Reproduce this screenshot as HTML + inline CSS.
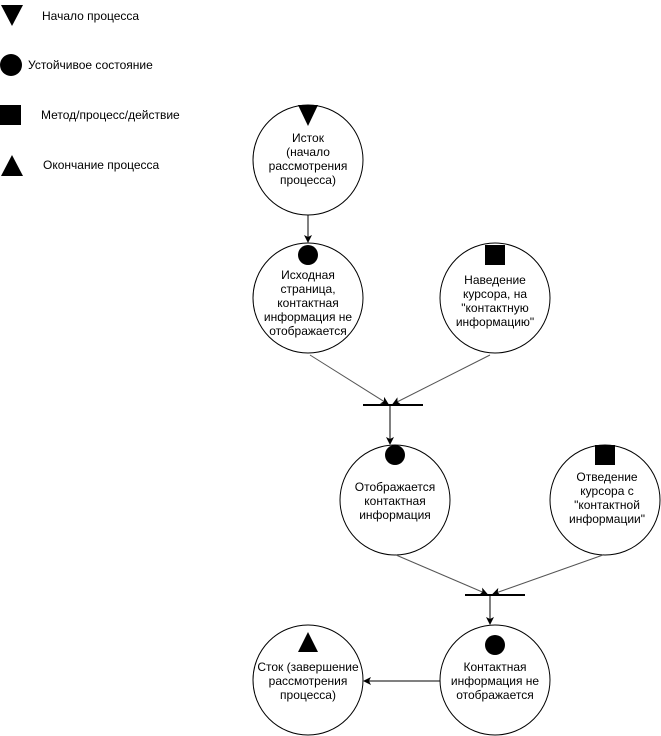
<!DOCTYPE html>
<html><head><meta charset="utf-8"><style>
html,body{margin:0;padding:0;background:#fff;}
svg{display:block;}
text{font-family:"Liberation Sans",sans-serif;font-size:12px;fill:#000;}
</style></head><body>
<svg width="661" height="736" viewBox="0 0 661 736" xmlns="http://www.w3.org/2000/svg">
<defs>
<marker id="a" markerWidth="8" markerHeight="8" refX="7" refY="4" orient="auto" markerUnits="userSpaceOnUse">
<path d="M0,0 L8,4 L0,8 L2,4 Z" fill="#000"/></marker>
</defs>
<!-- legend -->
<polygon points="1,5 23,5 12,26" fill="#000"/>
<text x="42" y="20">Начало процесса</text>
<circle cx="11" cy="65" r="11" fill="#000"/>
<text x="28" y="69">Устойчивое состояние</text>
<rect x="0" y="105" width="21" height="20" fill="#000"/>
<text x="41" y="119">Метод/процесс/действие</text>
<polygon points="1,176 23,176 12,155" fill="#000"/>
<text x="43" y="169">Окончание процесса</text>

<g fill="#fff" stroke="#000" stroke-width="1">
<circle cx="308" cy="160" r="55"/>
<circle cx="308" cy="298" r="55"/>
<circle cx="495" cy="298" r="55"/>
<circle cx="395" cy="500" r="55"/>
<circle cx="605" cy="500" r="55"/>
<circle cx="495" cy="680" r="55"/>
<circle cx="308" cy="680" r="55"/>
</g>
<!-- icons -->
<polygon points="298,105 318,105 308,126" fill="#000"/>
<circle cx="308" cy="255" r="10" fill="#000"/>
<rect x="485" y="245" width="20" height="20" fill="#000"/>
<circle cx="395" cy="455" r="10" fill="#000"/>
<rect x="595" y="445" width="20" height="20" fill="#000"/>
<circle cx="495" cy="645" r="10" fill="#000"/>
<polygon points="298,652 318,652 308,632" fill="#000"/>

<!-- connectors -->
<g stroke="#000" stroke-width="1" fill="none">
<line x1="308" y1="215" x2="308" y2="242" marker-end="url(#a)"/>
<line x1="310" y1="355" x2="388" y2="404" stroke="#555" marker-end="url(#a)"/>
<line x1="490" y1="355" x2="393" y2="404" stroke="#555" marker-end="url(#a)"/>
<line x1="363" y1="405" x2="423" y2="405" stroke-width="2"/>
<line x1="390" y1="405" x2="390" y2="444" marker-end="url(#a)"/>
<line x1="396" y1="555" x2="487" y2="594" stroke="#555" marker-end="url(#a)"/>
<line x1="603" y1="555" x2="493" y2="594" stroke="#555" marker-end="url(#a)"/>
<line x1="465" y1="595" x2="525" y2="595" stroke-width="2"/>
<line x1="490" y1="595" x2="490" y2="624" marker-end="url(#a)"/>
<line x1="440" y1="681" x2="364" y2="681" marker-end="url(#a)"/>
</g>

<g text-anchor="middle">
<text x="308" y="142">Исток</text>
<text x="308" y="156">(начало</text>
<text x="308" y="170">рассмотрения</text>
<text x="308" y="184">процесса)</text>

<text x="308" y="279">Исходная</text>
<text x="308" y="293">страница,</text>
<text x="308" y="307">контактная</text>
<text x="308" y="321">информация не</text>
<text x="308" y="335">отображается</text>

<text x="495" y="284">Наведение</text>
<text x="495" y="298">курсора, на</text>
<text x="495" y="312">"контактную</text>
<text x="495" y="326">информацию"</text>

<text x="395" y="491">Отображается</text>
<text x="395" y="505">контактная</text>
<text x="395" y="519">информация</text>

<text x="607" y="481">Отведение</text>
<text x="607" y="495">курсора с</text>
<text x="607" y="509">"контактной</text>
<text x="607" y="523">информации"</text>

<text x="495" y="671">Контактная</text>
<text x="495" y="685">информация не</text>
<text x="495" y="699">отображается</text>

<text x="308" y="671">Сток (завершение</text>
<text x="308" y="685">рассмотрения</text>
<text x="308" y="699">процесса)</text>
</g>
</svg>
</body></html>
